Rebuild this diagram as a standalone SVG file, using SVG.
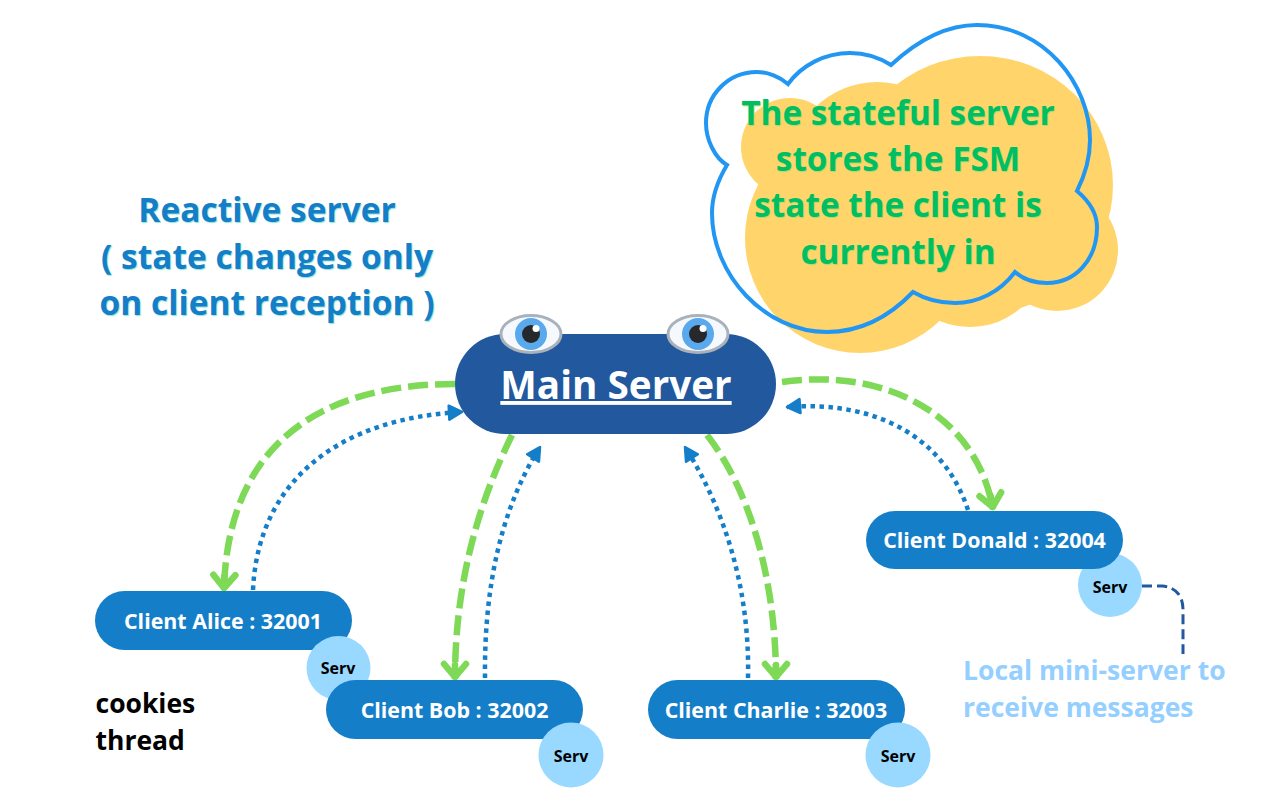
<svg xmlns="http://www.w3.org/2000/svg" width="1272" height="799" viewBox="0 0 1272 799">
<style>
text{font-family:"Open Sans","Liberation Sans",sans-serif;font-weight:700}
.pill{fill:#147ec8}
.serv{fill:#99d9ff}
.cl{fill:#fff;font-size:21.400px;text-anchor:middle}
.sv{fill:#000;font-size:16px;text-anchor:middle}
.g{fill:none;stroke:#7ed957;stroke-width:6.500;stroke-dasharray:20 7;marker-end:url(#ga)}
.b{fill:none;stroke:#147ec8;stroke-width:4.500;stroke-dasharray:4.500 4.500;marker-end:url(#ba)}
.re{fill:#147ec8;font-size:33.500px;text-anchor:middle;text-shadow:1px 1px 1px #8fe3d6}
.st{fill:#00bf63;font-size:33.300px;text-anchor:middle;text-shadow:1px 1px 1px #b5d66a}
.lo{fill:#94cfff;font-size:26.500px}
.ck{fill:#000;font-size:26.500px}
</style>
<defs>
<marker id="ga" markerUnits="userSpaceOnUse" markerWidth="36" markerHeight="36" refX="20" refY="18" orient="auto" overflow="visible"><path d="M5,7 L18,18 L5,29 M6,18 H18" fill="none" stroke="#7ed957" stroke-width="6.500" stroke-linecap="round" stroke-linejoin="round"/></marker>
<marker id="ba" markerUnits="userSpaceOnUse" markerWidth="24" markerHeight="24" refX="18" refY="12" orient="auto" overflow="visible"><path d="M5,5 L18,12 L5,19 Z" fill="#147ec8" stroke="#147ec8" stroke-width="2.500" stroke-linejoin="round"/></marker>
<g id="eye">
<ellipse cx="0" cy="0" rx="30" ry="18.500" fill="#f5f8fc" stroke="#a9b2bb" stroke-width="3"/>
<circle cx="0" cy="0" r="16" fill="#5aa9ec"/>
<circle cx="0" cy="0" r="9" fill="#26282c"/>
<circle cx="5" cy="-5.500" r="3.500" fill="#fff"/>
</g>
</defs>
<rect width="1272" height="799" fill="#fff"/>
<g id="cloud">
<g fill="#ffd56b">
<circle cx="790" cy="147" r="49"/>
<circle cx="877" cy="170" r="88"/>
<ellipse cx="980" cy="185" rx="133" ry="129"/>
<circle cx="860" cy="238" r="115"/>
<circle cx="970" cy="250" r="77"/>
<circle cx="1057" cy="250" r="61"/>
</g>
<path d="M891,65 C920,38 950,25 977,25 C1045,25 1090,85 1090,140 C1090,160 1085,175 1077,191 C1090,202 1097,215 1097,227 C1097,260 1075,283 1047,283 C1035,283 1023,279 1015,272 C1000,292 978,303 955,303 C940,303 925,299 913,292 C888,318 858,332 827,332 C765,332 712,275 712,213 C712,195 718,180 727,165 C715,158 706,140 706,123 C706,95 728,72 757,72 C768,72 780,77 788,84 C802,65 825,53 850,53 C865,53 880,58 891,65 Z" fill="none" stroke="#2196f3" stroke-width="4"/>
<text class="st" x="898" y="125">The stateful server</text>
<text class="st" x="898" y="171">stores the FSM</text>
<text class="st" x="898" y="217">state the client is</text>
<text class="st" x="898" y="264">currently in</text>
</g>
<g id="reactive-label">
<text class="re" x="267" y="222">Reactive server</text>
<text class="re" x="267" y="269">( state changes only</text>
<text class="re" x="267" y="315">on client reception )</text>
</g>
<g id="connectors">
<path class="g" d="M455,384 C345,384 228,425 224,590"/>
<path class="b" d="M253,590 C258,480 340,418 462,412"/>
<path class="g" d="M512,435 C475,510 455,590 455,679"/>
<path class="b" d="M485,678 C484,590 500,510 540,447"/>
<path class="g" d="M707,435 C750,490 776,580 776,679"/>
<path class="b" d="M748,678 C750,590 725,510 685,447"/>
<path class="g" d="M782,382 C880,368 975,410 993,509"/>
<path class="b" d="M968,510 C945,440 880,400 787,407"/>
<path d="M1142,586 H1162 Q1183,588 1183,610 V654" fill="none" stroke="#21589e" stroke-width="3" stroke-dasharray="10 5"/>
</g>
<g id="main-server">
<rect x="455" y="334" width="321" height="100" rx="50" fill="#21589e"/>
<use href="#eye" x="531" y="334"/>
<use href="#eye" x="698" y="334"/>
<text x="616" y="399" fill="#fff" font-size="38.700" text-anchor="middle" text-decoration="underline">Main Server</text>
</g>
<g id="client-alice">
<rect class="pill" x="95" y="591" width="257" height="59" rx="29.500"/>
<circle class="serv" cx="338.500" cy="668" r="32"/>
<text class="cl" x="223" y="629">Client Alice : 32001</text>
<text class="sv" x="338" y="674">Serv</text>
</g>
<g id="client-bob">
<rect class="pill" x="326" y="680" width="257" height="59" rx="29.500"/>
<circle class="serv" cx="571" cy="755" r="32.500"/>
<text class="cl" x="454.500" y="718">Client Bob : 32002</text>
<text class="sv" x="571" y="762">Serv</text>
</g>
<g id="client-charlie">
<rect class="pill" x="648" y="680" width="257" height="59" rx="29.500"/>
<circle class="serv" cx="898" cy="755" r="32.500"/>
<text class="cl" x="776" y="718">Client Charlie : 32003</text>
<text class="sv" x="898" y="762">Serv</text>
</g>
<g id="client-donald">
<circle class="serv" cx="1110" cy="585" r="32"/>
<rect class="pill" x="866" y="511" width="257" height="58" rx="29"/>
<text class="cl" x="994.500" y="548">Client Donald : 32004</text>
<text class="sv" x="1110" y="593">Serv</text>
</g>
<g id="local-label">
<text class="lo" x="963" y="680">Local mini-server to</text>
<text class="lo" x="963" y="717">receive messages</text>
</g>
<g id="cookies-label">
<text class="ck" x="95.500" y="713">cookies</text>
<text class="ck" x="95.500" y="750">thread</text>
</g>
</svg>
